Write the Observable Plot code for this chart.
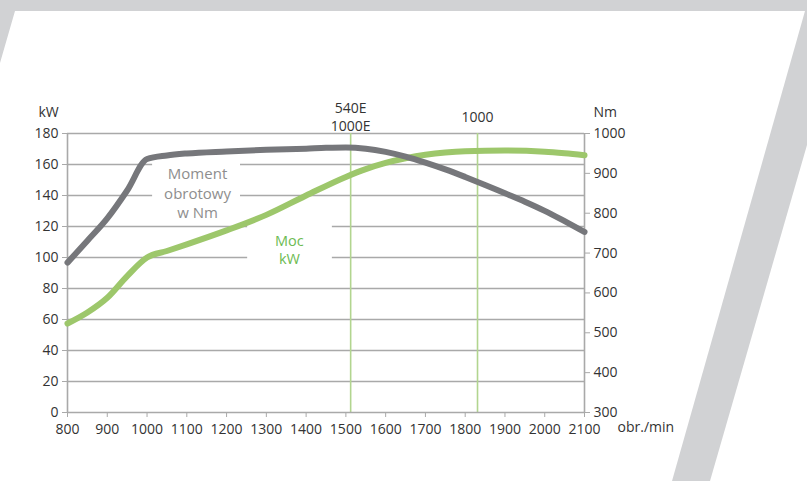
<!DOCTYPE html>
<html>
<head>
<meta charset="utf-8">
<script src="https://cdn.jsdelivr.net/npm/d3@7"></script>
<script src="https://cdn.jsdelivr.net/npm/@observablehq/plot@0.6"></script>
<style>
  html, body { margin: 0; padding: 0; background: #fff; }
  #wrap { position: relative; width: 807px; height: 481px; overflow: hidden; background: #fff; }
  .deco { position: absolute; left: 0; top: 0; width: 807px; height: 481px; background: #d1d2d4; }
  #decoA { clip-path: polygon(0px 0px, 807px 0px, 807px 11px, 15px 11px, 0px 63px); }
  #decoB { clip-path: polygon(805px 11px, 807px 11px, 807px 145px, 710px 481px, 672px 481px); }
  #chart { position: absolute; left: 0; top: 0; }
  #chart svg { background: transparent !important; }
</style>
</head>
<body>
<div id="wrap">
  <div class="deco" id="decoA"></div>
  <div class="deco" id="decoB"></div>
  <div id="chart"></div>
</div>
<script>
// power curve: engine speed (obr./min) and power in kW (left axis)
const powerRpm = [800, 850, 900, 950, 1000, 1050, 1100, 1200, 1300, 1400, 1500, 1550, 1600, 1650, 1700, 1750, 1800, 1900, 2000, 2050, 2100];
const powerKW  = [57.4, 64.5, 74, 88, 100, 104.2, 108.5, 117.5, 127.5, 140, 152, 157, 161, 164, 166.3, 167.8, 168.6, 169, 168.3, 167.3, 166];
// torque curve: engine speed (obr./min) and torque in Nm (right axis)
const torqueRpm = [800, 850, 900, 950, 1000, 1050, 1100, 1200, 1300, 1400, 1450, 1500, 1550, 1600, 1650, 1700, 1750, 1800, 1850, 1900, 1950, 2000, 2050, 2100];
const torqueNm  = [676, 731, 787, 857, 936, 945, 950, 955, 959, 962, 964, 965, 962, 954, 942, 927, 910, 891, 871, 850, 829, 806, 780, 753];

const xTicks = [800, 900, 1000, 1100, 1200, 1300, 1400, 1500, 1600, 1700, 1800, 1900, 2000, 2100];
const kwTicks = [0, 20, 40, 60, 80, 100, 120, 140, 160, 180];
const nmTicks = [300, 400, 500, 600, 700, 800, 900, 1000];

// PTO reference speeds
const ptoRpm = [1512, 1831];
const ptoLabels = ["540E\n1000E", "1000"];

// in-chart labels
const labelText = ["Moment\nobrotowy\nw Nm", "Moc\nkW"];
const labelX = [1127, 1358];
const labelY = [142, 105.5];
// white boxes behind labels (data units)
const boxX1 = [1014, 1253], boxX2 = [1235, 1466];
const boxY1 = [126, 92], boxY2 = [170, 128];

const NM_MIN = 300, NM_MAX = 1000, KW_MAX = 180;
const toKW = nm => (nm - NM_MIN) / (NM_MAX - NM_MIN) * KW_MAX;
const fromKW = kw => kw / KW_MAX * (NM_MAX - NM_MIN) + NM_MIN;

const powerData = powerRpm.map((r, i) => ({rpm: r, kw: powerKW[i]}));
const torqueData = torqueRpm.map((r, i) => ({rpm: r, nm: torqueNm[i], nmScaled: toKW(torqueNm[i])}));
const labels = labelText.map((t, i) => ({t, x: labelX[i], y: labelY[i]}));
const boxes = boxX1.map((x1, i) => ({x1, x2: boxX2[i], y1: boxY1[i], y2: boxY2[i]}));

const gridColor = "#a9a9a9";
const textColor = "#333333";
const grayLine = "#76777b";
const greenLine = "#9dc76b";
const greenRule = "#b2d58f";

const chart = Plot.plot({
  width: 807,
  height: 481,
  marginLeft: 67,
  marginRight: 223,
  marginTop: 133,
  marginBottom: 69,
  style: {fontFamily: "'Open Sans', sans-serif", fontSize: "14px", background: "transparent", color: textColor},
  x: {domain: [800, 2100]},
  y: {domain: [0, 180]},
  marks: [
    Plot.ruleY(kwTicks.filter(d => d > 0), {stroke: gridColor, strokeWidth: 1.6}),
    Plot.ruleX(ptoRpm, {y1: 0, y2: 180, stroke: greenRule, strokeWidth: 1.6}),
    Plot.rect(boxes, {x1: "x1", x2: "x2", y1: "y1", y2: "y2", fill: "white"}),
    Plot.ruleX([800, 2100], {y1: 0, y2: 180, stroke: gridColor, strokeWidth: 1.6}),
    Plot.ruleY([0], {stroke: gridColor, strokeWidth: 1.6}),
    Plot.axisX({ticks: xTicks, tickSize: 5, tickPadding: 7, tickFormat: d => String(d), stroke: gridColor, fill: textColor, label: null, fontSize: 14}),
    Plot.axisY({ticks: kwTicks, tickSize: 5, tickPadding: 4, tickFormat: d => String(d), stroke: gridColor, fill: textColor, label: null, fontSize: 14}),
    Plot.axisY({anchor: "right", ticks: nmTicks.map(toKW), tickSize: 5, tickPadding: 4, tickFormat: d => String(Math.round(fromKW(d))), stroke: gridColor, fill: textColor, label: null, fontSize: 14}),
    Plot.line(powerData, {x: "rpm", y: "kw", stroke: greenLine, strokeWidth: 6, curve: "monotone-x"}),
    Plot.line(torqueData, {x: "rpm", y: "nmScaled", stroke: grayLine, strokeWidth: 6, curve: "monotone-x"}),
    Plot.text(labels.slice(0, 1), {x: "x", y: "y", text: "t", fill: "#8e8e8e", fontSize: 15, lineHeight: 1.3}),
    Plot.text(labels.slice(1), {x: "x", y: "y", text: "t", fill: "#6dbb52", fontSize: 14.5, lineHeight: 1.3}),
    Plot.text([ptoLabels[0]], {x: [ptoRpm[0]], frameAnchor: "top", text: d => d, lineAnchor: "bottom", dy: -3, fill: textColor, fontSize: 14, lineHeight: 1.25}),
    Plot.text([ptoLabels[1]], {x: [ptoRpm[1]], frameAnchor: "top", text: d => d, lineAnchor: "bottom", dy: -12, fill: textColor, fontSize: 14}),
    Plot.text(["kW"], {frameAnchor: "top-left", text: d => d, textAnchor: "start", dx: -29, dy: -21, lineAnchor: "middle", fill: textColor, fontSize: 14}),
    Plot.text(["Nm"], {frameAnchor: "top-right", text: d => d, textAnchor: "start", dx: 9, dy: -21, lineAnchor: "middle", fill: textColor, fontSize: 14}),
    Plot.text(["obr./min"], {frameAnchor: "bottom-right", text: d => d, textAnchor: "start", dx: 33, dy: 15, lineAnchor: "middle", fill: textColor, fontSize: 14})
  ]
});
document.getElementById("chart").appendChild(chart);
</script>
</body>
</html>
